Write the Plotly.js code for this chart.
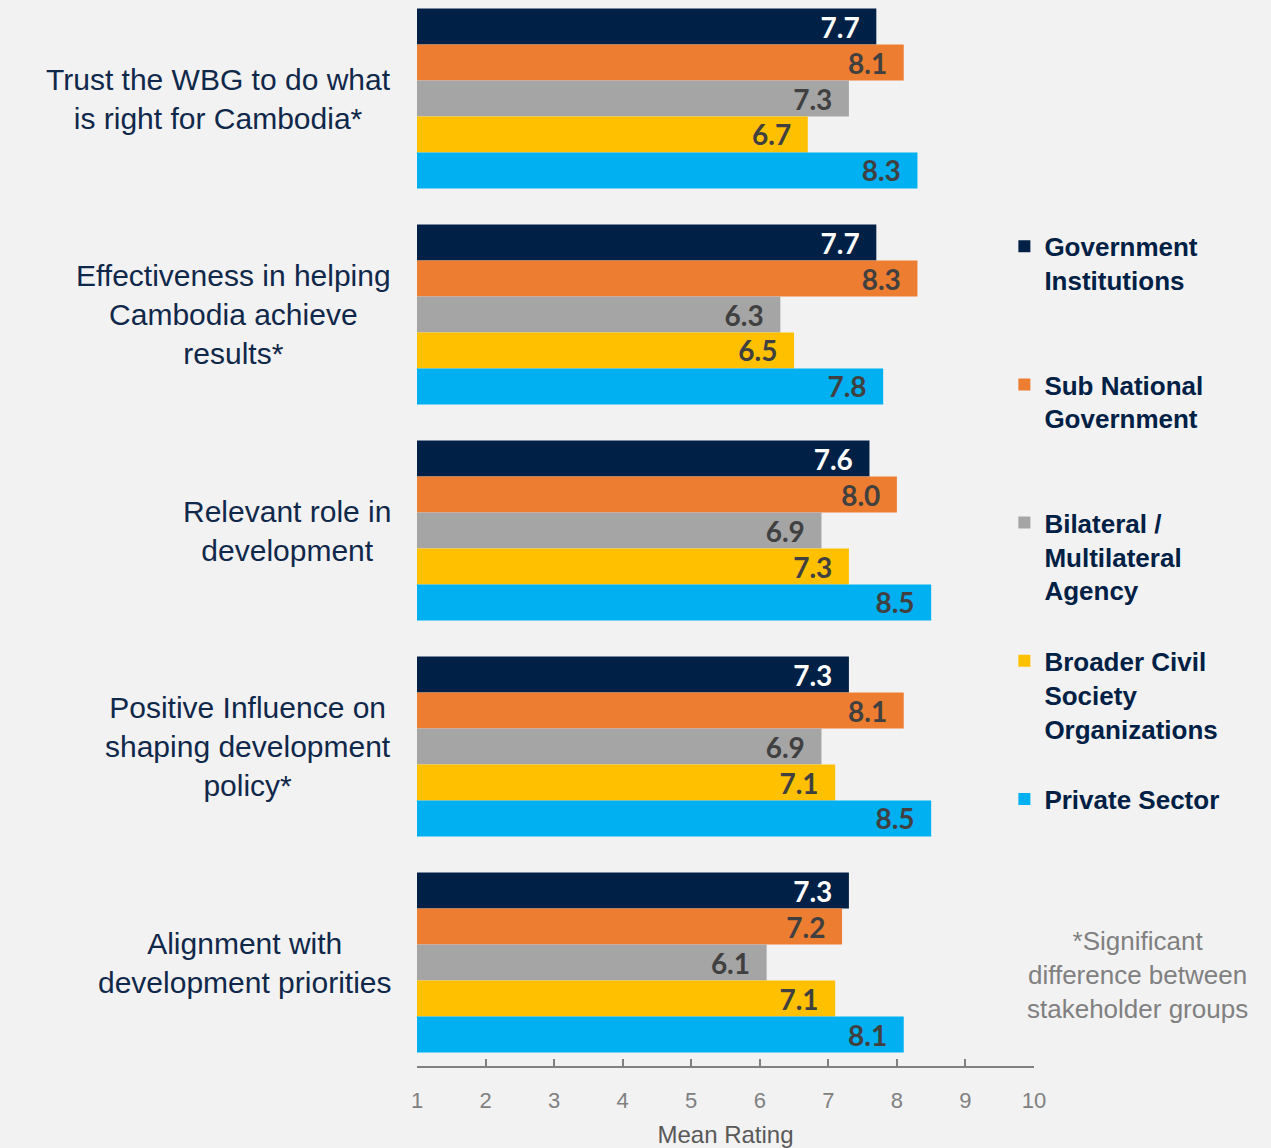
<!DOCTYPE html>
<html>
<head>
<meta charset="utf-8">
<script src="https://cdn.plot.ly/plotly-3.0.1.min.js"></script>
<style>
  html, body { margin: 0; padding: 0; background: #F2F2F2; }
</style>
</head>
<body>
<div id="chart" style="width:1271px;height:1148px;"></div>
<script>
var categories = ['Trust', 'Effectiveness', 'Relevant role', 'Positive Influence', 'Alignment'];
var categoryLabels = [
    'Trust the WBG to do what<br>is right for Cambodia*',
    'Effectiveness in helping<br>Cambodia achieve<br>results*',
    'Relevant role in<br>development',
    'Positive Influence on<br>shaping development<br>policy*',
    'Alignment with<br>development priorities'
];

var government = [7.7, 7.7, 7.6, 7.3, 7.3];
var subNational = [8.1, 8.3, 8.0, 8.1, 7.2];
var bilateral = [7.3, 6.3, 6.9, 6.9, 6.1];
var civilSociety = [6.7, 6.5, 7.3, 7.1, 7.1];
var privateSector = [8.3, 7.8, 8.5, 8.5, 8.1];

// blank lines pad each legend entry to the same height
var seriesNames = [
    'Government<br>Institutions<br> <br> ',
    'Sub National<br>Government<br> <br> ',
    'Bilateral /<br>Multilateral<br>Agency<br> ',
    'Broader Civil<br>Society<br>Organizations<br> ',
    'Private Sector'
];
var seriesValues = [government, subNational, bilateral, civilSociety, privateSector];
var seriesColors = ['#002045', '#ED7D31', '#A5A5A5', '#FFC000', '#00B0F0'];
var labelColors = ['#FFFFFF', '#404040', '#404040', '#404040', '#404040'];

var xTicks = [1, 2, 3, 4, 5, 6, 7, 8, 9, 10];

var ARIAL = 'Liberation Sans, Arial, sans-serif';
var pad = '\u00a0\u00a0';

var data = seriesValues.map(function (vals, i) {
    return {
        type: 'bar',
        orientation: 'h',
        y: categories,
        x: vals,
        name: seriesNames[i],
        marker: { color: seriesColors[i] },
        text: vals.map(function (v) { return v.toFixed(1) + pad; }),
        textposition: 'inside',
        insidetextanchor: 'end',
        textangle: 0,
        constraintext: 'none',
        textfont: { family: 'Lato, Open Sans, sans-serif', size: 28, color: labelColors[i], weight: 'bold' },
        hoverinfo: 'x'
    };
});

var annotations = categories.map(function (c, i) {
    return {
        xref: 'paper', yref: 'y',
        x: 0, y: c,
        xanchor: 'right', yanchor: 'middle',
        xshift: -24,
        align: 'center',
        showarrow: false,
        text: categoryLabels[i],
        font: { family: ARIAL, size: 30, color: '#10284A' }
    };
});

annotations.push({
    xref: 'paper', yref: 'paper',
    x: 1.167, y: 0.0854,
    xanchor: 'center', yanchor: 'middle',
    align: 'center',
    showarrow: false,
    text: '*Significant<br>difference between<br>stakeholder groups',
    font: { family: ARIAL, size: 26, color: '#808080' }
});

var layout = {
    width: 1271,
    height: 1148,
    margin: { l: 417, r: 237, t: 0, b: 82 },
    paper_bgcolor: '#F2F2F2',
    plot_bgcolor: '#F2F2F2',
    barmode: 'group',
    bargap: 0.167,
    bargroupgap: 0,
    showlegend: true,
    legend: {
        x: 0.952, xanchor: 'left',
        y: 0.791, yanchor: 'top',
        valign: 'top',
        traceorder: 'normal',
        bgcolor: 'rgba(0,0,0,0)',
        font: { family: ARIAL, size: 26, color: '#002045', weight: 'bold' }
    },
    xaxis: {
        range: [1, 10],
        tickvals: xTicks,
        ticks: 'inside',
        ticklen: 7,
        tickwidth: 2,
        tickcolor: '#808080',
        showline: true,
        linecolor: '#808080',
        linewidth: 2,
        showgrid: false,
        zeroline: false,
        ticklabelstandoff: 14,
        tickfont: { family: ARIAL, size: 22, color: '#808080' },
        title: {
            text: 'Mean Rating',
            standoff: 15,
            font: { family: ARIAL, size: 24, color: '#595959' }
        }
    },
    yaxis: {
        type: 'category',
        range: [4.479, -0.456],
        showticklabels: false,
        showgrid: false,
        zeroline: false,
        showline: false,
        ticks: ''
    },
    annotations: annotations
};

Plotly.newPlot('chart', data, layout, { displayModeBar: false });
</script>
</body>
</html>
